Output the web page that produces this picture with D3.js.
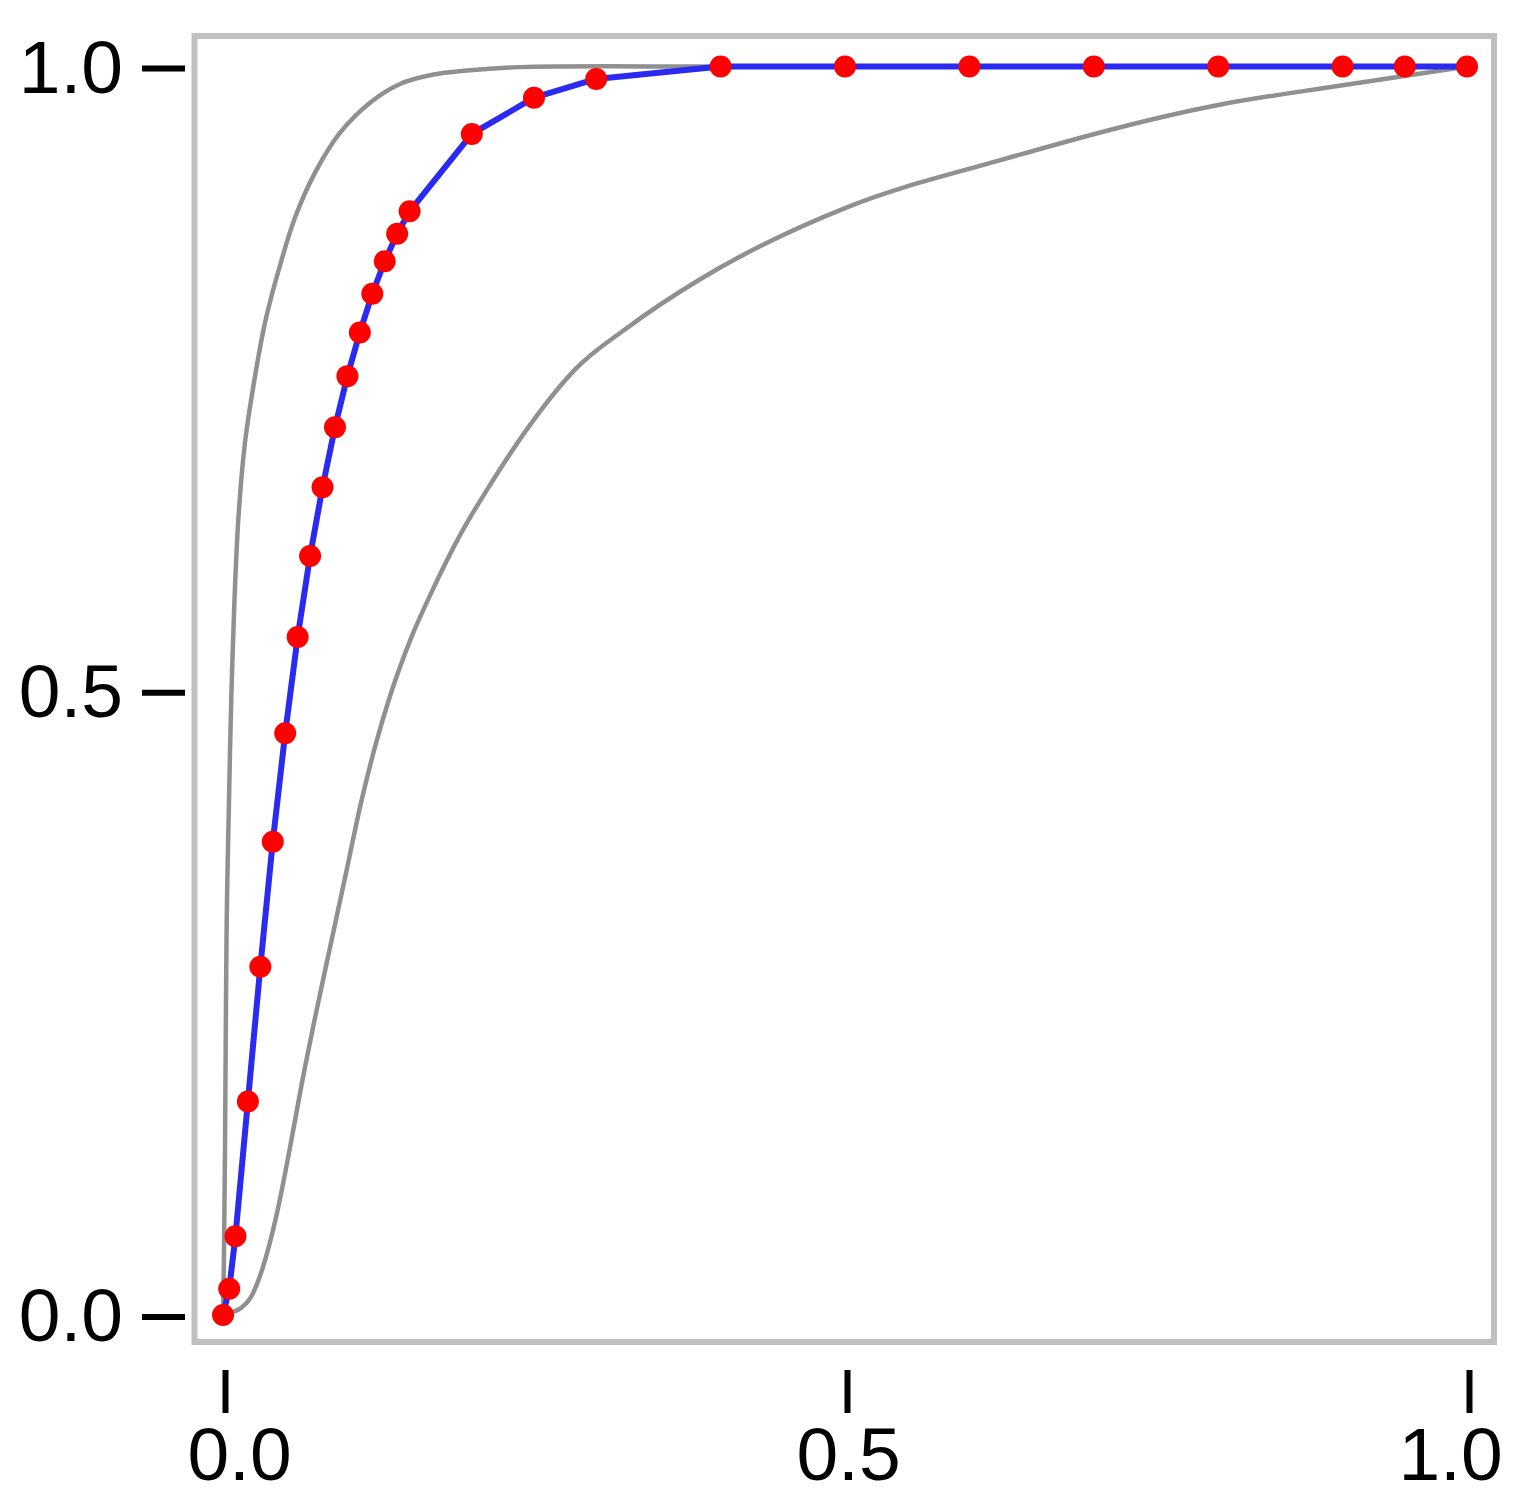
<!DOCTYPE html>
<html>
<head>
<meta charset="utf-8">
<script src="https://cdn.jsdelivr.net/npm/d3@7"></script>
<style>
  html, body { margin: 0; padding: 0; background: #fff; }
  svg { display: block; }
  .tick text { font-family: "Liberation Sans", Arial, sans-serif; }
</style>
</head>
<body>
<svg id="chart" width="1524" height="1506"></svg>
<script>
// ROC points (false positive rate, true positive rate)
const rocFPR = [0.0, 0.005, 0.010, 0.020, 0.030, 0.040, 0.050, 0.060, 0.070, 0.080, 0.090, 0.100,
                0.110, 0.120, 0.130, 0.140, 0.150, 0.200, 0.250, 0.300, 0.400, 0.500, 0.600,
                0.700, 0.800, 0.900, 0.950, 1.000];
const rocTPR = [0.0, 0.021, 0.063, 0.171, 0.279, 0.379, 0.466, 0.543, 0.608, 0.663, 0.711, 0.752,
                0.787, 0.818, 0.844, 0.866, 0.884, 0.946, 0.975, 0.990, 1.0, 1.0, 1.0,
                1.0, 1.0, 1.0, 1.0, 1.0];

// Upper confidence band (grey)
const upperX = [0.0, 0.0008, 0.0016, 0.0024, 0.0032, 0.0048, 0.0066, 0.0092, 0.0125, 0.0177, 0.0249,
                0.0338, 0.0442, 0.0579, 0.0740, 0.0941, 0.1182, 0.1423, 0.1664, 0.1985, 0.2387, 0.40, 0.70, 1.0];
const upperY = [0.0, 0.050, 0.131, 0.251, 0.331, 0.411, 0.492, 0.572, 0.640, 0.699, 0.747,
                0.795, 0.835, 0.879, 0.915, 0.947, 0.971, 0.986, 0.993, 0.997, 0.9995, 1.0, 1.0, 1.0];

// Lower confidence band (grey)
const lowerX = [0.0, 0.008, 0.0145, 0.0225, 0.032, 0.0426, 0.0531, 0.0627, 0.0748, 0.0868, 0.0989,
                0.1109, 0.1230, 0.1350, 0.1511, 0.1672, 0.1913, 0.2154, 0.2476, 0.2837, 0.3239,
                0.3842, 0.501, 0.625, 0.799, 0.900, 1.0];
const lowerY = [0.0, 0.0024, 0.0056, 0.0144, 0.038, 0.078, 0.130, 0.182, 0.242, 0.298, 0.354,
                0.410, 0.458, 0.498, 0.542, 0.578, 0.626, 0.666, 0.714, 0.758, 0.790,
                0.830, 0.887, 0.925, 0.969, 0.985, 1.0];

const xTicks = [0.0, 0.5, 1.0];
const yTicks = [0.0, 0.5, 1.0];
const tickLabels = ["0.0", "0.5", "1.0"];

const svg = d3.select("#chart");

const x = d3.scaleLinear().domain([0, 1]).range([223, 1467]);
const y = d3.scaleLinear().domain([0, 1]).range([1315, 66.5]);

// Frame
svg.append("rect")
  .attr("x", 194.5).attr("y", 36)
  .attr("width", 1494 - 194.5).attr("height", 1342 - 36)
  .attr("fill", "none").attr("stroke", "#c0c0c0").attr("stroke-width", 6);

const toPts = (xs, ys) => xs.map((v, i) => [v, ys[i]]);

const upperLine = d3.line().x(d => x(d[0])).y(d => y(d[1])).curve(d3.curveCatmullRom.alpha(0.5));
const lowerLine = d3.line().x(d => x(d[0])).y(d => y(d[1])).curve(d3.curveMonotoneX);

svg.append("path").datum(toPts(upperX, upperY))
  .attr("d", upperLine).attr("fill", "none")
  .attr("stroke", "#909090").attr("stroke-width", 4.5).attr("stroke-linejoin", "round");
svg.append("path").datum(toPts(lowerX, lowerY))
  .attr("d", lowerLine).attr("fill", "none")
  .attr("stroke", "#909090").attr("stroke-width", 4.5).attr("stroke-linejoin", "round");

const rocLine = d3.line().x(d => x(d[0])).y(d => y(d[1]));
svg.append("path").datum(toPts(rocFPR, rocTPR))
  .attr("d", rocLine).attr("fill", "none")
  .attr("stroke", "#2a2af0").attr("stroke-width", 6).attr("stroke-linejoin", "round");

svg.append("g").selectAll("circle").data(toPts(rocFPR, rocTPR)).join("circle")
  .attr("cx", d => x(d[0])).attr("cy", d => y(d[1])).attr("r", 11)
  .attr("fill", "#ff0000");

// Y axis
const yAxis = d3.axisLeft(y).tickValues(yTicks).tickFormat((d, i) => tickLabels[i])
  .tickSize(43).tickPadding(19);
const gy = svg.append("g").attr("transform", "translate(185,1.5)").call(yAxis);
gy.select(".domain").remove();
gy.selectAll(".tick line").attr("stroke", "#000").attr("stroke-width", 6);
gy.selectAll(".tick text").attr("fill", "#000").style("font-size", "75px");

// X axis
const xAxis = d3.axisBottom(x).tickValues(xTicks).tickFormat((d, i) => tickLabels[i])
  .tickSize(43).tickPadding(14);
const gx = svg.append("g").attr("transform", "translate(2,1370)").call(xAxis);
gx.select(".domain").remove();
gx.selectAll(".tick line").attr("stroke", "#000").attr("stroke-width", 6);
gx.selectAll(".tick text").attr("fill", "#000").style("font-size", "75px")
  .attr("dx", (d, i) => i === 0 ? 14 : (i === xTicks.length - 1 ? -19 : 1));
</script>
</body>
</html>
